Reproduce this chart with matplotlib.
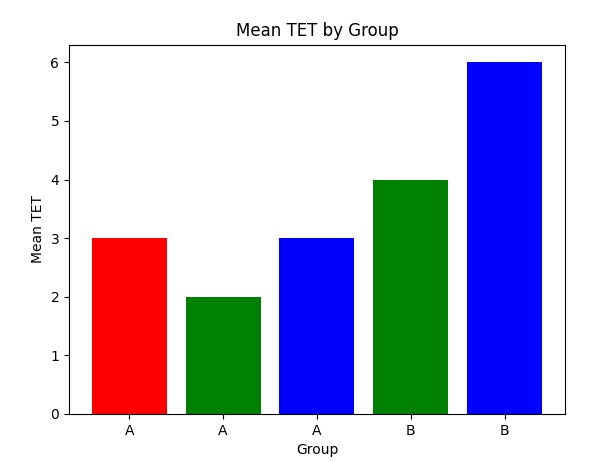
import matplotlib
matplotlib.use("Agg")
import matplotlib.pyplot as plt

groups = ["A", "A", "A", "B", "B"]
mean_tet = [3, 2, 3, 4, 6]
colors = ["red", "green", "blue", "green", "blue"]

fig, ax = plt.subplots(figsize=(6.06, 4.62), dpi=100)
fig.subplots_adjust(left=0.114, right=0.932, top=0.903, bottom=0.104)
pos = list(range(len(groups)))
ax.bar(pos, mean_tet, color=colors)
ax.set_xticks(pos)
ax.set_xticklabels(groups)
ax.set_xlabel("Group")
ax.set_ylabel("Mean TET")
ax.set_title("Mean TET by Group")
fig.savefig("out.png", dpi=100)
